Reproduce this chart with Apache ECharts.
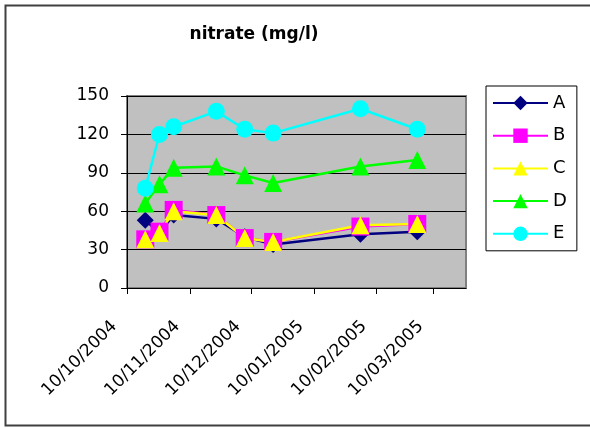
<!DOCTYPE html>
<html>
<head>
<meta charset="utf-8">
<script src="https://cdn.jsdelivr.net/npm/echarts@6/dist/echarts.min.js"></script>
<style>
html,body{margin:0;padding:0;background:#fff;}
#chart{width:590px;height:428px;}
</style>
</head>
<body>
<div id="chart"></div>
<script>
// ---- data ----
const sampleDates = ['19/10/2004','26/10/2004','02/11/2004','23/11/2004','07/12/2004','21/12/2004','02/02/2005','02/03/2005'];
const seriesNames = ['A','B','C','D','E'];
const valuesA = [53, 43, 57, 54, 40, 34, 42, 44];
const valuesB = [38, 44, 61, 57, 39, 36, 48, 50];
const valuesC = [38, 43, 60, 57, 39, 36, 49, 50];
const valuesD = [66, 81, 94, 95, 88, 82, 95, 100];
const valuesE = [78, 120, 126, 138, 124, 121, 140, 124];
const xTickLabels = ['10/10/2004','10/11/2004','10/12/2004','10/01/2005','10/02/2005','10/03/2005'];
const xMinLabel = '10/10/2004';
const xMaxLabel = '26/03/2005';
const yMin = 0, yMax = 150, yStep = 30;
const titleText = 'nitrate (mg/l)';

function parseDMY(s){ const p = s.split('/'); return new Date(+p[2], +p[1]-1, +p[0]).getTime(); }
function fmtDMY(v){ const d = new Date(v); const pad = n => (n<10?'0':'')+n; return pad(d.getDate())+'/'+pad(d.getMonth()+1)+'/'+d.getFullYear(); }
const xTickValues = xTickLabels.map(parseDMY);

const FONT = 'DejaVu Sans';
const colors = ['#000080','#FF00FF','#FFFF00','#00FF00','#00FFFF'];
const symbols = ['diamond','rect','triangle','triangle','circle'];
const symbolSizes = [17,18,18,18,17];
const allValues = [valuesA, valuesB, valuesC, valuesD, valuesE];

const chart = echarts.init(document.getElementById('chart'), null, {renderer:'canvas'});
chart.setOption({
  animation:false,
  backgroundColor:'#ffffff',
  title:{
    text:titleText, left:254, top:26, textAlign:'center', padding:0,
    textStyle:{fontFamily:FONT, fontSize:17, fontWeight:'bold', color:'#000'}
  },
  graphic:[{
    type:'rect', silent:true, z:-10,
    shape:{x:5.5, y:5.5, width:620, height:420},
    style:{fill:'none', stroke:'#404040', lineWidth:2}
  }],
  legend:{
    orient:'vertical', left:486, top:86,
    padding:[8,10,8,6], itemGap:14.7, itemWidth:55, itemHeight:18,
    backgroundColor:'#fff', borderColor:'#000', borderWidth:1,
    textStyle:{fontFamily:FONT, fontSize:18, color:'#000'},
    data:seriesNames
  },
  grid:{
    left:127, top:96, width:339, height:192,
    show:true, backgroundColor:'#C0C0C0', borderColor:'#808080', borderWidth:2
  },
  xAxis:{
    type:'value',
    min:parseDMY(xMinLabel), max:parseDMY(xMaxLabel),
    axisLine:{onZero:false, lineStyle:{color:'#000', width:1}},
    axisTick:{show:true, length:6, inside:false, lineStyle:{color:'#000'}, customValues:xTickValues},
    axisLabel:{
      customValues:xTickValues, rotate:45, margin:23, padding:[0,18,0,0],
      fontFamily:FONT, fontSize:17, color:'#000',
      formatter:function(v){ return fmtDMY(v); }
    },
    splitLine:{show:false}
  },
  yAxis:{
    type:'value', min:yMin, max:yMax, interval:yStep,
    axisLine:{show:true, lineStyle:{color:'#000', width:1}},
    axisTick:{show:true, length:6, lineStyle:{color:'#000'}},
    axisLabel:{margin:18, fontFamily:FONT, fontSize:17, color:'#000'},
    splitLine:{show:true, lineStyle:{color:'#000', width:1}}
  },
  series: seriesNames.map(function(name, i){
    return {
      name:name, type:'line',
      data: sampleDates.map(function(d, j){ return [parseDMY(d), allValues[i][j]]; }),
      symbol:symbols[i], symbolSize:symbolSizes[i], showAllSymbol:true,
      lineStyle:{color:colors[i], width:2.5},
      itemStyle:{color:colors[i], borderWidth:0},
      emphasis:{disabled:true}
    };
  })
});
</script>
</body>
</html>
